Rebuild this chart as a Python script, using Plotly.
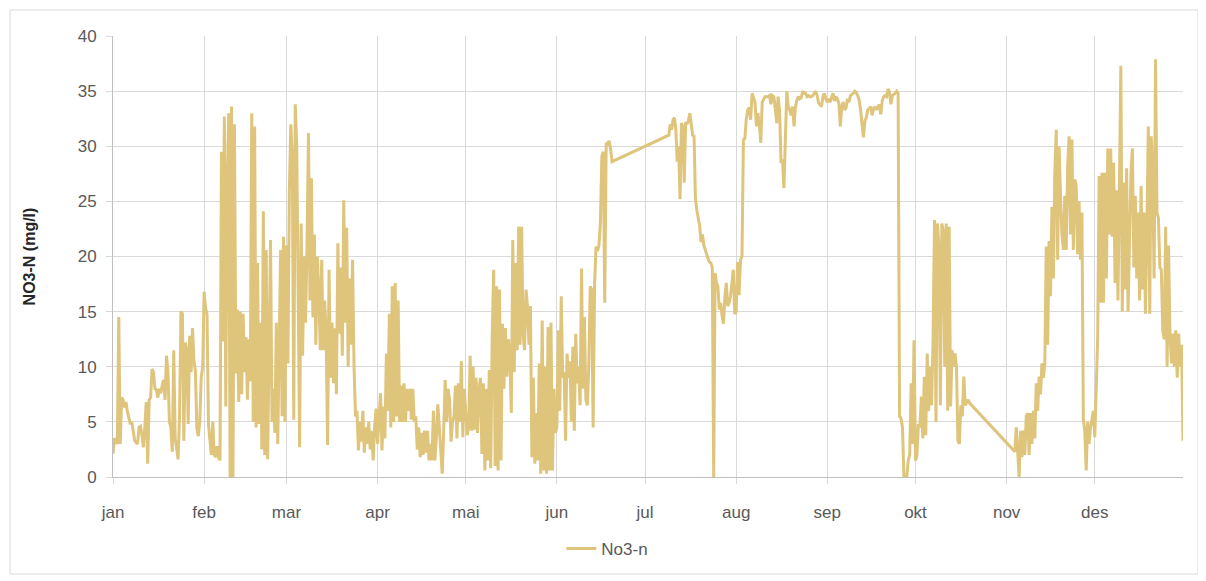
import pandas as pd
import plotly.graph_objects as go

# ---------------- data ----------------
month_starts = ["2021-01-01", "2021-02-01", "2021-03-01", "2021-04-01", "2021-05-01", "2021-06-01",
                "2021-07-01", "2021-08-01", "2021-09-01", "2021-10-01", "2021-11-01", "2021-12-01"]
month_labels = ["jan", "feb", "mar", "apr", "mai", "jun", "jul", "aug", "sep", "okt", "nov", "des"]

jan_span = ("2021-01-01 00:00", "2021-01-31 12:00")
jan_vals = [2.1, 3.5, 3.3, 3.0, 14.5, 3.0, 7.2, 7.0, 6.3, 6.8, 5.9, 5.3, 4.8, 5.0, 4.2, 3.3, 3.1, 3.0, 4.5, 4.6,
            3.8, 2.7, 4.5, 6.8, 1.2, 7.0, 7.2, 9.8, 9.5, 8.0, 7.9, 7.2, 8.0, 7.6, 8.3, 8.8, 7.0, 11.0, 9.5, 5.0,
            4.5, 2.3, 11.5, 3.5, 2.6, 1.6, 5.5, 15.0, 14.8, 3.3, 12.2, 11.6, 4.8, 12.8, 9.5, 13.5, 10.5, 9.6, 4.4,
            3.7, 5.0, 9.0, 10.0]

feb_span = ("2021-02-01 00:00", "2021-02-28 12:00")
feb_vals = [16.8, 15.3, 14.8, 4.8, 3.5, 2.0, 5.0, 2.0, 1.8, 2.8, 1.8, 1.5, 29.5, 12.3, 32.7, 6.4, 26.4, 33.0,
            0.0, 33.6, 0.0, 32.0, 9.4, 15.2, 6.8, 15.0, 7.5, 14.8, 9.5, 12.7, 7.0, 12.5, 8.7, 33.0, 5.0, 31.8,
            4.5, 19.4, 4.8, 14.0, 2.5, 24.1, 2.0, 20.6, 1.6, 13.0, 21.5, 5.0, 8.0, 4.0, 14.0, 3.0, 11.2, 20.6,
            5.5, 21.8, 5.0]

mar_span = ("2021-03-01 00:00", "2021-03-31 12:00")
mar_vals = [21.0, 10.3, 26.0, 32.0, 29.0, 5.2, 33.8, 30.0, 18.2, 2.7, 23.0, 11.0, 20.0, 14.0, 21.0, 31.2, 16.0,
            27.1, 14.5, 22.0, 12.0, 20.0, 17.0, 11.5, 19.7, 11.5, 16.0, 13.0, 2.9, 18.8, 9.0, 14.0, 8.5, 13.5,
            7.5, 21.2, 13.0, 19.0, 11.0, 25.1, 14.0, 22.6, 10.0, 18.0, 12.0, 19.7, 10.0, 5.5, 6.0, 2.4, 5.0,
            3.2, 6.0, 2.2, 4.5, 3.0, 5.0, 2.5, 4.2, 1.5, 4.5, 6.2]

apr_span = ("2021-04-01 00:00", "2021-04-30 12:00")
apr_vals = [3.0, 5.5, 7.6, 2.4, 6.4, 3.5, 11.2, 6.0, 14.8, 4.5, 17.3, 5.0, 17.6, 5.5, 16.0, 5.0, 8.3, 5.0, 8.5,
            5.0, 8.0, 6.0, 8.0, 5.2, 8.0, 5.0, 5.5, 2.5, 4.5, 1.8, 4.0, 2.0, 4.2, 2.2, 4.2, 1.5, 3.0, 1.5, 6.0,
            1.5, 3.5, 6.6, 4.5, 2.0, 0.3, 4.2, 8.8, 5.0, 8.0, 7.0, 3.2, 5.0, 5.5, 8.3, 3.5, 8.5, 5.0, 10.5,
            3.6, 8.0]

mai_span = ("2021-05-01 00:00", "2021-05-31 12:00")
mai_vals = [5.8, 3.8, 4.5, 11.0, 4.2, 10.0, 4.3, 9.0, 4.0, 8.0, 9.0, 2.1, 8.5, 0.6, 8.0, 1.5, 9.7, 0.8, 12.7,
            18.8, 1.0, 17.3, 0.6, 17.0, 1.5, 13.9, 8.0, 13.5, 9.1, 12.5, 10.9, 5.8, 21.5, 9.5, 19.4, 11.5, 22.7,
            12.0, 22.7, 13.0, 11.5, 17.0, 15.5, 12.0, 15.5, 1.8, 9.0, 1.2, 5.8, 1.5, 10.3, 0.3, 14.2, 0.6, 10.0,
            0.3, 13.6, 0.6, 14.0, 0.6, 8.0, 4.0]

jun_span = ("2021-06-01 00:00", "2021-06-19 18:00")
jun_vals = [4.5, 13.3, 6.0, 16.4, 9.0, 9.5, 3.3, 11.2, 9.0, 10.5, 5.0, 11.8, 4.2, 13.0, 8.5, 10.0, 6.5, 18.9,
            8.0, 14.5, 7.0, 6.5, 10.0, 17.3, 17.0, 4.5, 17.5, 20.9, 20.5, 21.0, 23.0, 29.1, 29.5, 15.8, 30.3,
            30.2, 30.5, 29.8, 28.6]

jul_span = ("2021-07-09 02:00", "2021-07-31 12:00")
jul_vals = [31.0, 32.0, 31.5, 32.4, 32.6, 31.5, 28.6, 30.0, 25.2, 32.1, 31.8, 26.7, 32.2, 32.0, 32.3, 33.0,
            31.8, 31.0, 30.9, 25.2, 24.2, 23.5, 22.8, 21.3, 22.0, 21.0, 20.5, 20.2, 19.8, 19.5, 19.4, 19.0, 0.0,
            18.5, 17.6, 17.3, 15.2, 15.8, 14.6, 13.9, 16.4, 17.6, 15.5, 15.8, 16.4, 17.5, 18.8, 14.8]

aug_span = ("2021-08-01 00:00", "2021-08-31 12:00")
aug_vals = [15.0, 19.5, 16.5, 19.7, 20.0, 30.6, 30.7, 32.5, 33.3, 33.5, 32.4, 34.8, 34.3, 34.0, 31.8, 33.0,
            32.0, 30.3, 34.0, 34.2, 34.5, 34.5, 34.5, 34.6, 33.8, 34.6, 34.5, 33.5, 32.1, 34.5, 33.3, 28.5, 28.8,
            26.2, 30.0, 35.0, 33.6, 33.3, 32.8, 33.6, 31.8, 33.6, 34.2, 34.5, 34.3, 34.4, 35.0, 34.8, 34.8, 34.5,
            34.6, 34.5, 34.5, 34.6, 34.8, 35.0, 34.6, 33.9, 33.8, 33.6, 34.5, 34.8, 34.3]

sep_span = ("2021-09-01 00:00", "2021-09-30 12:00")
sep_vals = [34.0, 34.3, 34.0, 34.5, 34.8, 34.1, 34.5, 34.3, 33.9, 31.8, 33.6, 34.0, 33.3, 33.5, 34.3, 34.0,
            34.6, 34.7, 34.8, 35.0, 34.9, 34.6, 34.2, 33.3, 32.1, 30.8, 32.3, 32.6, 33.3, 33.4, 33.6, 32.8, 33.4,
            33.6, 33.3, 33.6, 33.8, 32.9, 34.1, 34.5, 34.6, 34.5, 35.2, 34.9, 33.8, 34.6, 34.7, 34.8, 35.0, 34.8,
            5.5, 5.3, 4.5, 0.0, 0.0, 0.0, 1.5, 2.0, 8.5, 3.0, 12.4]

okt_span = ("2021-10-01 00:00", "2021-10-19 10:00")
okt_vals = [1.5, 2.0, 4.8, 4.5, 7.3, 3.5, 9.1, 3.8, 11.2, 6.0, 10.0, 6.5, 12.5, 23.3, 5.0, 23.0, 20.9, 6.5,
            23.0, 22.3, 10.0, 23.0, 6.0, 22.7, 6.4, 11.5, 10.0, 11.2, 10.0, 3.3, 3.0, 6.5, 5.5, 9.1, 6.5, 6.8,
            7.0, 6.7]

nov_span = ("2021-11-03 19:00", "2021-11-30 12:00")
nov_vals = [2.3, 4.5, 2.0, 0.0, 4.2, 1.8, 4.2, 2.0, 5.5, 5.8, 2.0, 5.8, 3.0, 6.0, 3.5, 8.5, 6.0, 9.1, 7.5,
            10.3, 9.0, 10.3, 20.9, 12.0, 21.4, 16.4, 24.5, 18.0, 27.6, 31.5, 19.7, 30.0, 25.5, 22.0, 20.6, 25.5,
            20.6, 28.2, 30.9, 22.0, 30.6, 20.6, 27.0, 26.4, 20.2, 25.0, 19.7, 24.0, 5.2, 4.2, 0.6, 5.0, 3.0, 4.5,
            5.2, 6.0]

des_span = ("2021-12-01 00:00", "2021-12-31 00:00")
des_vals = [3.6, 7.9, 12.7, 27.3, 15.8, 27.6, 15.8, 27.6, 18.0, 29.8, 22.0, 29.8, 21.8, 28.5, 17.6, 26.0, 16.0,
            26.0, 37.3, 15.0, 26.7, 17.0, 28.0, 15.0, 21.0, 27.6, 29.8, 19.0, 25.5, 18.0, 24.0, 16.0, 26.4, 17.0,
            24.0, 14.8, 22.0, 31.8, 14.8, 30.9, 28.0, 18.0, 37.9, 24.0, 23.5, 19.0, 18.8, 13.3, 12.5, 22.7, 10.0,
            21.0, 13.0, 10.3, 13.0, 10.0, 13.3, 9.0, 13.0, 10.0, 12.0, 3.3]

segments = [(jan_span, jan_vals), (feb_span, feb_vals), (mar_span, mar_vals), (apr_span, apr_vals),
            (mai_span, mai_vals), (jun_span, jun_vals), (jul_span, jul_vals), (aug_span, aug_vals),
            (sep_span, sep_vals), (okt_span, okt_vals), (nov_span, nov_vals), (des_span, des_vals)]

times, values = [], []
for (start, end), vals in segments:
    times.extend(pd.date_range(start, end, periods=len(vals)))
    values.extend(vals)

# ---------------- figure ----------------
LINE = "#DFC47C"
GRID = "#D9D9D9"
TXT = "#595959"
FONT = "Liberation Sans"

fig = go.Figure()
fig.add_trace(go.Scatter(x=times, y=values, mode="lines", name="No3-n",
                         line=dict(color=LINE, width=3)))

fig.update_layout(
    width=1206, height=581,
    margin=dict(l=105, r=31, t=28, b=112),
    paper_bgcolor="white", plot_bgcolor="white",
    font=dict(family=FONT, size=16, color=TXT),
    showlegend=True,
    legend=dict(orientation="h", x=0.462, xanchor="center", y=-0.163, yanchor="middle",
                font=dict(family=FONT, size=17, color=TXT)),
    xaxis=dict(type="date", range=["2021-01-01", "2021-12-31"],
               tickmode="array", tickvals=month_starts, ticktext=month_labels,
               showgrid=True, gridcolor=GRID, gridwidth=1,
               showline=True, linecolor="#BFBFBF", linewidth=1,
               ticks="outside", ticklen=6, tickcolor=GRID, ticklabelstandoff=14,
               tickfont=dict(family=FONT, size=17, color=TXT), zeroline=False),
    yaxis=dict(range=[0, 40], dtick=5, tick0=0,
               showgrid=True, gridcolor=GRID, gridwidth=1,
               showline=True, linecolor="#BFBFBF", linewidth=1,
               ticks="outside", ticklen=6, tickcolor=GRID, ticklabelstandoff=6,
               tickfont=dict(family=FONT, size=17, color=TXT), zeroline=False,
               title=dict(text="<b>NO3-N (mg/l)</b>", standoff=38,
                          font=dict(family=FONT, size=16, color="#262626"))),
    shapes=[dict(type="rect", xref="paper", yref="paper",
                 x0=-103 / 1070, x1=1085 / 1070, y0=-97 / 441, y1=467 / 441,
                 line=dict(color=GRID, width=1), fillcolor="rgba(0,0,0,0)", layer="above")],
)

fig.write_html("out.html")
